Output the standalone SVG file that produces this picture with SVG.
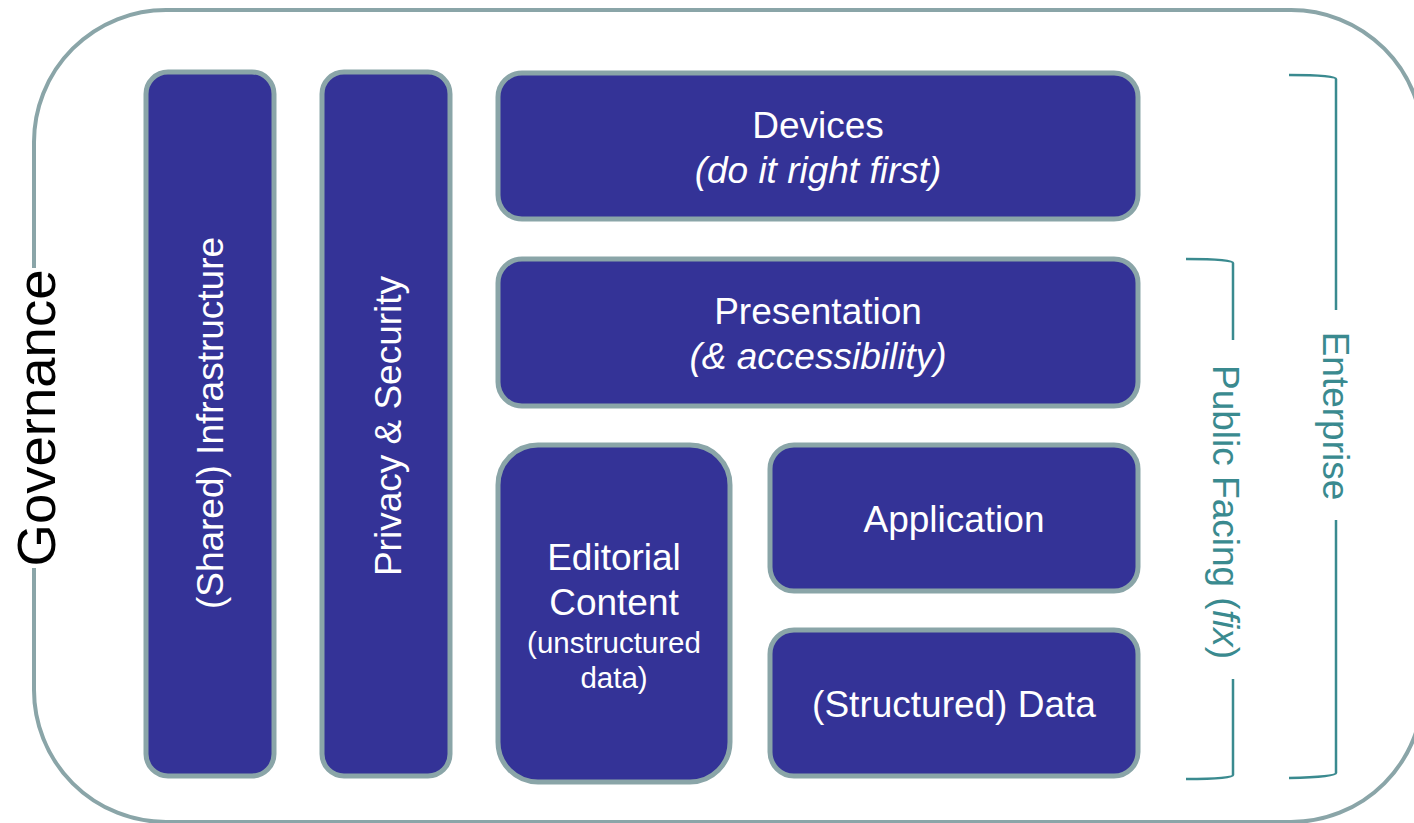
<svg xmlns="http://www.w3.org/2000/svg" width="1414" height="823" viewBox="0 0 1414 823">
<style>
.node{fill:#343397;stroke:#8aa5a8;stroke-width:5}
.t{font-family:"Liberation Sans",Arial,sans-serif;fill:#ffffff;font-size:37px;text-anchor:middle}
.s{font-size:29.5px}
.i{font-style:italic}
.br{fill:none;stroke:#3a8a8f;stroke-width:2.5}
.bt{font-family:"Liberation Sans",Arial,sans-serif;fill:#3a8a8f;font-size:37px;text-anchor:middle}
</style>
<rect width="1414" height="823" fill="#ffffff"/>
<g id="governance">
<rect x="34" y="10" width="1389" height="812" rx="132" ry="132" fill="none" stroke="#8aa5a8" stroke-width="4"/>
<rect x="14" y="268" width="44" height="300" fill="#ffffff"/>
<text transform="translate(55,418) rotate(-90)" font-family="Liberation Sans,Arial,sans-serif" font-size="54.5" fill="#000000" text-anchor="middle">Governance</text>
</g>
<g id="infrastructure">
<rect class="node" x="146" y="72" width="128" height="704" rx="22"/>
<text class="t" transform="translate(223,423) rotate(-90)">(Shared) Infrastructure</text>
</g>
<g id="privacy">
<rect class="node" x="322" y="72" width="128" height="704" rx="22"/>
<text class="t" transform="translate(401,426) rotate(-90)">Privacy &amp; Security</text>
</g>
<g id="devices">
<rect class="node" x="498" y="73" width="640" height="146" rx="24"/>
<text class="t" x="818" y="138">Devices</text>
<text class="t i" x="818" y="183">(do it right first)</text>
</g>
<g id="presentation">
<rect class="node" x="498" y="259" width="640" height="147" rx="24"/>
<text class="t" x="818" y="324">Presentation</text>
<text class="t i" x="818" y="369">(&amp; accessibility)</text>
</g>
<g id="editorial">
<rect class="node" x="498" y="445" width="232" height="337" rx="40"/>
<text class="t" x="614" y="570">Editorial</text>
<text class="t" x="614" y="615">Content</text>
<text class="t s" x="614" y="653">(unstructured</text>
<text class="t s" x="614" y="688">data)</text>
</g>
<g id="application">
<rect class="node" x="770" y="445" width="368" height="146" rx="24"/>
<text class="t" x="954" y="532">Application</text>
</g>
<g id="data">
<rect class="node" x="770" y="630" width="368" height="146" rx="24"/>
<text class="t" x="954" y="717">(Structured) Data</text>
</g>
<g id="connectors">
<path class="br" d="M1289,75 Q1336,75 1336,79 L1336,310 M1336,520 L1336,773 Q1336,777 1289,778"/>
<path class="br" d="M1186,259 Q1233,259 1233,263 L1233,340 M1233,679 L1233,775 Q1233,779 1186,779"/>
</g>
<g id="enterprise">
<text class="bt" transform="translate(1323,416) rotate(90)">Enterprise</text>
</g>
<g id="public-facing">
<text class="bt" transform="translate(1213,512) rotate(90)">Public Facing (<tspan font-style="italic">fix</tspan>)</text>
</g>
</svg>
